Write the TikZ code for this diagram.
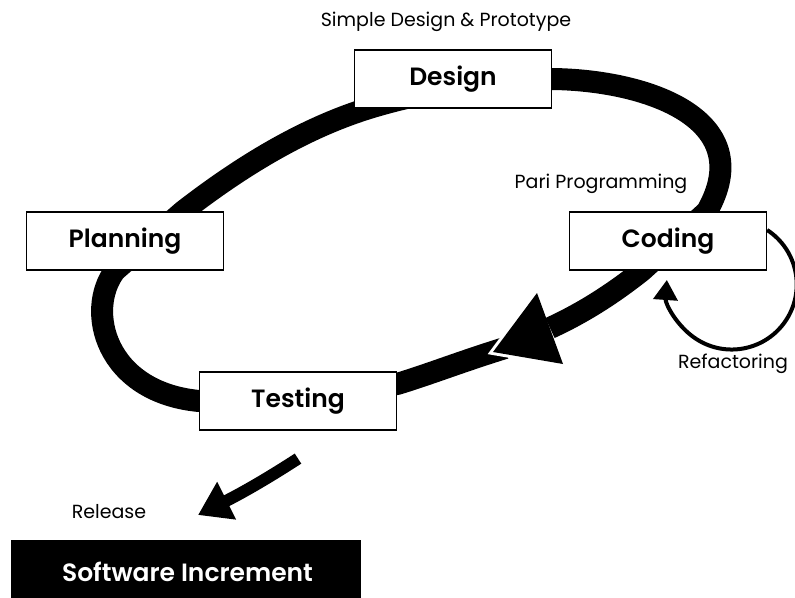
\documentclass[tikz,border=0pt]{standalone}
\usepackage{fontspec}
\setmainfont{Poppins}[BoldFont={Poppins SemiBold}]
\usetikzlibrary{arrows.meta,backgrounds}

\begin{document}
\begin{tikzpicture}
  [x=1pt,y=-1pt,
   stage/.style={rectangle,draw,line width=1.2pt,fill=white,minimum width=197pt,minimum height=58pt,font=\fontsize{25}{29}\selectfont\bfseries},
   note/.style={font=\fontsize{19}{22}\selectfont},
   loop line/.style={line width=22pt,line join=round}]
  \useasboundingbox (0,0) rectangle (795,597);

  \node[stage] (design)   at (453,79)  {Design};
  \node[stage] (planning) at (125,241) {Planning};
  \node[stage] (coding)   at (668,241) {Coding};
  \node[stage] (testing)  at (298,401) {Testing};
  \node[fill=black,text=white,minimum width=350pt,minimum height=64pt,
        font=\fontsize{25}{29}\selectfont\bfseries] (inc) at (186,572) {\hspace*{3pt}Software Increment};

  \node[note] (proto)   at (446,22)  {Simple Design \& Prototype};
  \node[note] (pair)    at (601,184) {Pari Programming};
  \node[note] (refact)  at (733,364) {Refactoring};
  \node[note] (release) at (109,512) {Release};

  \coordinate (tip) at (493,352);
  \coordinate (wing1) at (537,293);
  \coordinate (wing2) at (563,364);
  \coordinate (drop) at (198,515);

  \begin{pgfonlayer}{background}
  % the big loop
  \draw[loop line] (505,348) .. controls (460,362) and (430,374) .. ([yshift=17pt]testing.east)
    -- (testing.west) .. controls (105,392) and (85,310) .. ([xshift=-10pt]planning.south)
    -- ([xshift=58pt]planning.north) .. controls (230,175) and (290,135) .. (357,112)
    .. controls (400,97) and (480,80) .. (design.east)
    .. controls (645,80) and (760,118) .. ([xshift=39pt]coding.north)
    -- ([xshift=-26pt]coding.south) .. controls (615,292) and (585,312) .. (550,328);
  \draw[white,line width=6pt,line join=miter] (wing1) -- (tip) -- (wing2);
  \fill (tip) -- (wing1) -- (wing2) -- cycle;

  \draw[line width=4pt,-{Triangle[length=20pt,width=24pt]}]
    ([yshift=11pt]coding.east) arc[start angle=-57,end angle=184,radius=65];
  \end{pgfonlayer}

  \draw[line width=12pt,-{Triangle[length=32pt,width=40pt]}]
    ([yshift=-28pt]testing.south) .. controls (265,480) and (240,494) .. (drop);

\end{tikzpicture}
\end{document}
